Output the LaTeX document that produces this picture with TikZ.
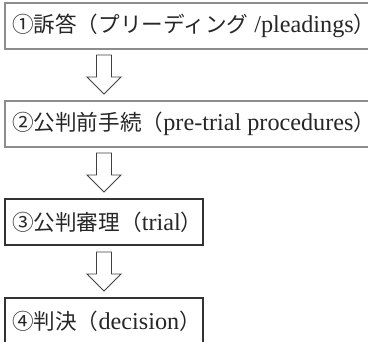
\documentclass[tikz,border=0pt]{standalone}
\usepackage{fontspec}
\setmainfont{Liberation Serif}
\newfontfamily\jp{Noto Sans CJK JP}
\newfontfamily\lat[Scale=1.12]{Liberation Serif}
\begin{document}
\begin{tikzpicture}[x=1pt,y=-1pt,
  txt/.style={anchor=west, inner sep=0pt, text=black!85,
    font=\fontsize{21.6pt}{25pt}\selectfont},
  grayline/.style={line width=1.2pt, draw=black!45},
  darkline/.style={line width=1.2pt, draw=black!80},
  darr/.pic={\draw[line width=0.9pt, draw=black!75, line join=miter]
    (-7.5,0) -- (7.5,0) -- (7.5,22) -- (17,22) -- (0,39) -- (-17,22) -- (-7.5,22) -- cycle;}]
\useasboundingbox (0,0) rectangle (368,342);
% box 1
\coordinate (b1nw) at (5,3);
\coordinate (b1sw) at (5,49);
\node[txt] (t1) at (12,26)
  {{\jp ①訴答（プリーディング}{\lat\ /pleadings}{\jp ）}};
\draw[grayline] (b1nw -| 372,0) -- (b1nw) -- (b1sw) -- (b1sw -| 372,0);
% box 2
\coordinate (b2nw) at (5,101);
\coordinate (b2sw) at (5,147);
\node[txt] (t2) at (12,124)
  {{\jp ②公判前手続（}{\lat pre-trial procedures}{\jp ）}};
\draw[grayline] (b2nw -| 372,0) -- (b2nw) -- (b2sw) -- (b2sw -| 372,0);
% box 3
\coordinate (b3nw) at (5,199);
\coordinate (b3se) at (203,245);
\node[txt] (t3) at (12,222) {{\jp ③公判審理（}{\lat trial}{\jp ）}};
\draw[darkline] (b3nw) rectangle (b3se);
% box 4
\coordinate (b4nw) at (5,298);
\coordinate (b4se) at (203,344);
\node[txt] (t4) at (12,321) {{\jp ④判決（}{\lat decision}{\jp ）}};
\draw[darkline] (b4nw) rectangle (b4se);
% arrows
\pic at (104,55) {darr};
\pic at (104,153) {darr};
\pic at (104,252) {darr};
\end{tikzpicture}
\end{document}
